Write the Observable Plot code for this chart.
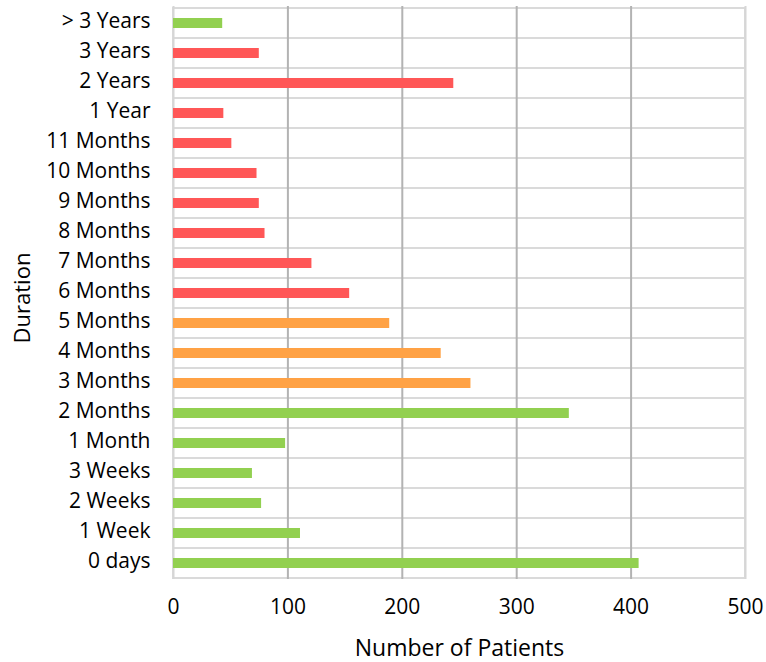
<!DOCTYPE html>
<html>
<head>
<meta charset="utf-8">
<script src="https://cdn.jsdelivr.net/npm/d3@7"></script>
<script src="https://cdn.jsdelivr.net/npm/@observablehq/plot@0.6"></script>
<style>
  html, body { margin: 0; padding: 0; background: #fff; }
  #chart svg { display: block; }
</style>
</head>
<body>
<div id="chart"></div>
<script>
// Durations, listed top to bottom
const durations = [
  "> 3 Years", "3 Years", "2 Years", "1 Year", "11 Months", "10 Months",
  "9 Months", "8 Months", "7 Months", "6 Months", "5 Months", "4 Months",
  "3 Months", "2 Months", "1 Month", "3 Weeks", "2 Weeks", "1 Week", "0 days"
];
// Number of patients for each duration
const patients = [43, 75, 245, 44, 51, 73, 75, 80, 121, 154, 189, 234, 260, 346, 98, 69, 77, 111, 407];
// Colour group of each bar
const groups = [
  "ok", "late", "late", "late", "late", "late", "late", "late", "late", "late",
  "warn", "warn", "warn", "ok", "ok", "ok", "ok", "ok", "ok"
];
const groupNames = ["ok", "warn", "late"];
const groupColors = ["#92d050", "#ffa245", "#ff5757"];
const xTicks = [0, 100, 200, 300, 400, 500];

const rows = durations.map((d, i) => ({duration: d, patients: patients[i], group: groups[i]}));

const font = "'Open Sans', sans-serif";

const chart = Plot.plot({
  width: 766,
  height: 662,
  marginLeft: 173,
  marginRight: 21,
  marginTop: 6,
  marginBottom: 83,
  style: {fontFamily: font, color: "#000", background: "#fff"},
  x: {domain: [0, 500]},
  y: {domain: durations, padding: 0},
  color: {domain: groupNames, range: groupColors},
  marks: [
    // row boundaries
    Plot.barX(durations, {y: d => d, x1: 0, x2: 500, fill: "none", stroke: "#dadada", strokeWidth: 2}),
    // vertical gridlines
    Plot.gridX({ticks: [100, 200, 300, 400], stroke: "#b3b3b3", strokeOpacity: 1, strokeWidth: 2}),
    Plot.ruleX([0, 500], {stroke: "#d6d6d6", strokeWidth: 2}),
    Plot.barX(rows, {y: "duration", x: "patients", fill: "group", insetTop: 10, insetBottom: 10}),
    Plot.axisY({tickSize: 0, tickPadding: 23, fontSize: 21, dy: -2, label: null}),
    Plot.axisX({ticks: xTicks, tickSize: 0, tickPadding: 20, fontSize: 21, label: null}),
    Plot.text(["Number of Patients"], {frameAnchor: "bottom", dy: 76, fontSize: 23}),
    Plot.text(["Duration"], {frameAnchor: "left", textAnchor: "middle", dx: -151, dy: 5, rotate: -90, fontSize: 22})
  ]
});

document.getElementById("chart").appendChild(chart);
</script>
</body>
</html>
